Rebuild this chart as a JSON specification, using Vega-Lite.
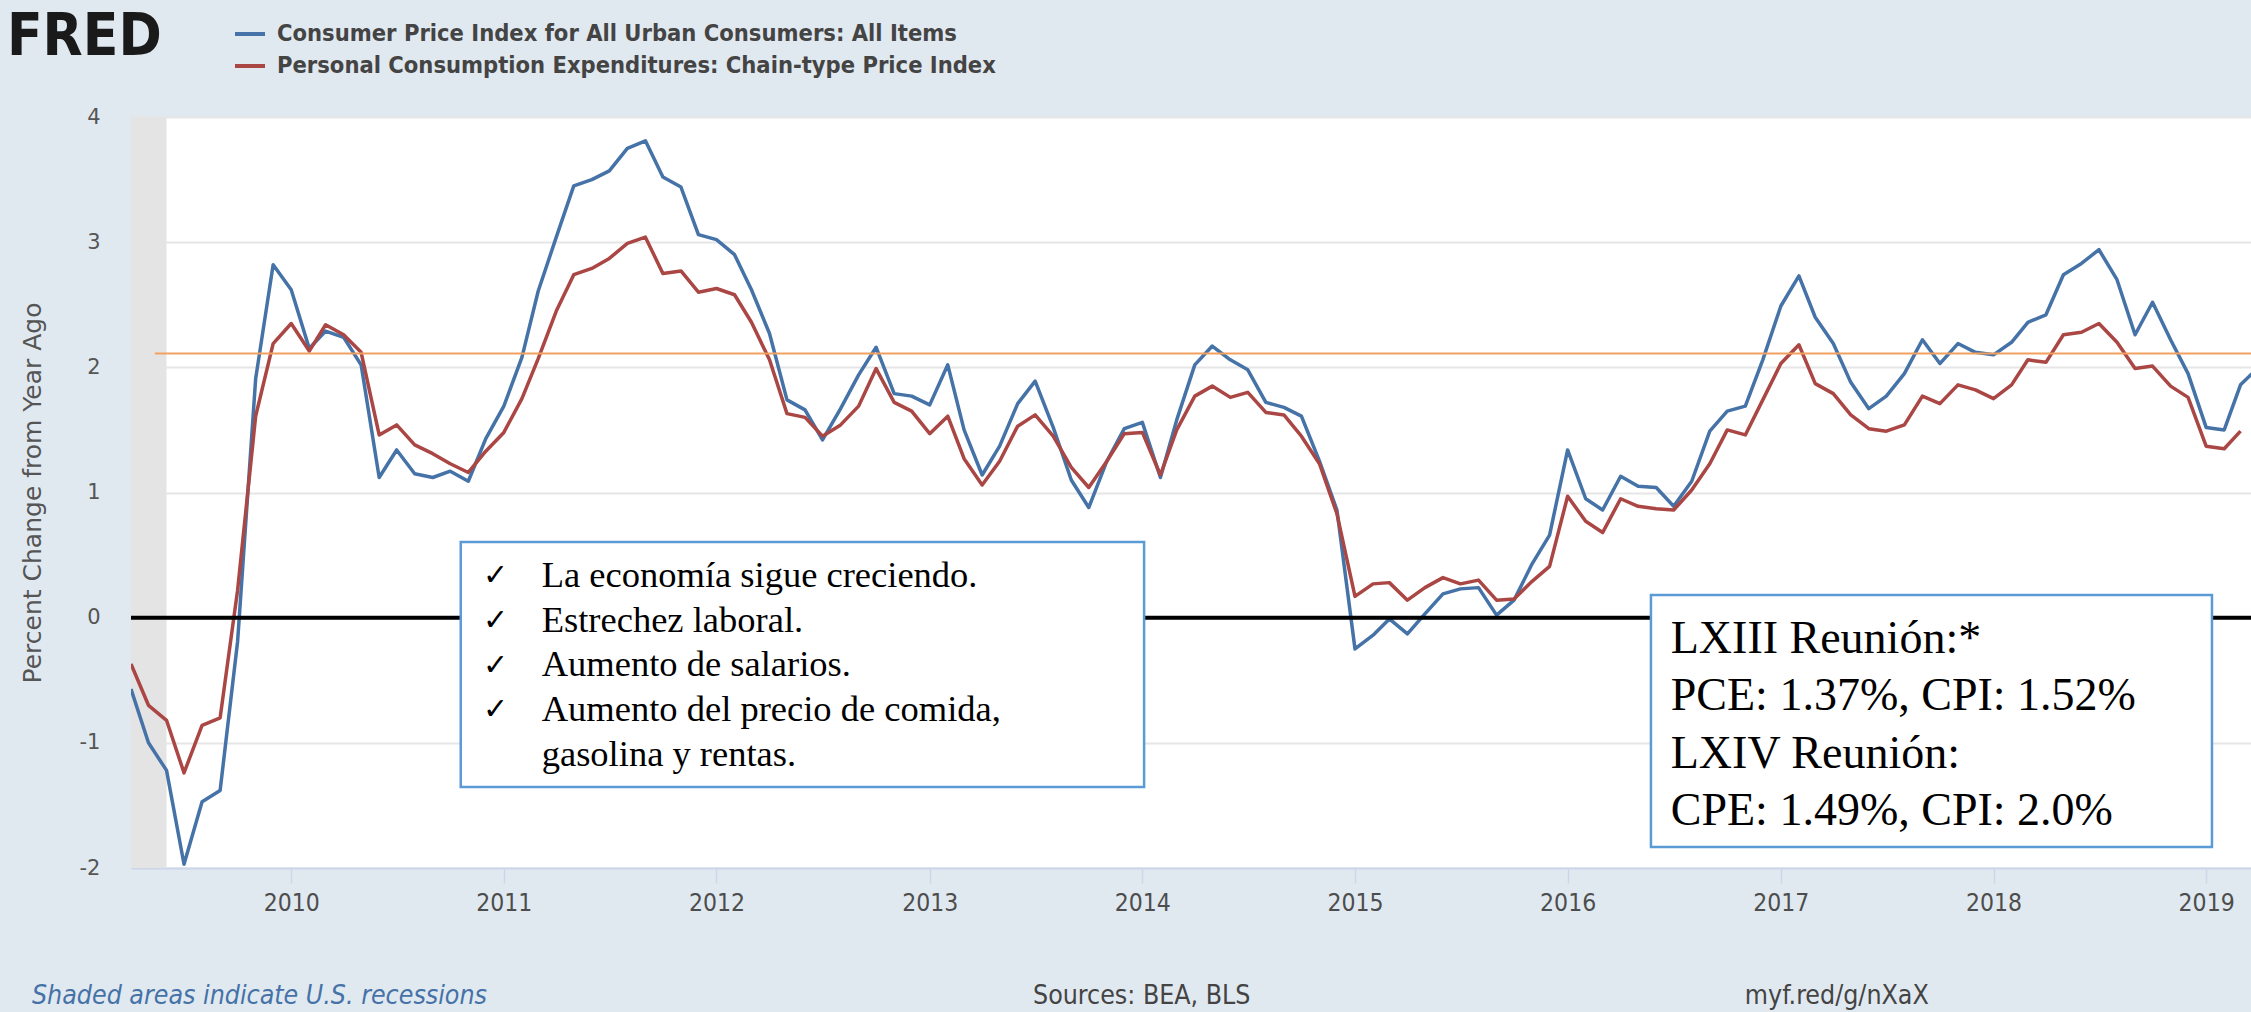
{
  "$schema": "https://vega.github.io/schema/vega-lite/v6.json",
  "width": 2120,
  "height": 751,
  "autosize": {"type": "none"},
  "padding": {"left": 131, "top": 117, "right": 0, "bottom": 144},
  "background": "#e1e9f0",
  "config": {
    "view": {"fill": "white", "stroke": null},
    "font": "DejaVu Sans"
  },
  "datasets": {
    "fred": [
      {"date": "2009-04-01", "CPI": -0.57, "PCE": -0.37},
      {"date": "2009-05-01", "CPI": -1.0, "PCE": -0.7},
      {"date": "2009-06-01", "CPI": -1.22, "PCE": -0.82},
      {"date": "2009-07-01", "CPI": -1.97, "PCE": -1.24},
      {"date": "2009-08-01", "CPI": -1.47, "PCE": -0.86},
      {"date": "2009-09-01", "CPI": -1.38, "PCE": -0.8},
      {"date": "2009-10-01", "CPI": -0.19, "PCE": 0.22},
      {"date": "2009-11-01", "CPI": 1.91, "PCE": 1.61},
      {"date": "2009-12-01", "CPI": 2.82, "PCE": 2.19},
      {"date": "2010-01-01", "CPI": 2.62, "PCE": 2.35},
      {"date": "2010-02-01", "CPI": 2.15, "PCE": 2.13},
      {"date": "2010-03-01", "CPI": 2.29, "PCE": 2.34},
      {"date": "2010-04-01", "CPI": 2.24, "PCE": 2.26},
      {"date": "2010-05-01", "CPI": 2.02, "PCE": 2.12},
      {"date": "2010-06-01", "CPI": 1.12, "PCE": 1.46},
      {"date": "2010-07-01", "CPI": 1.34, "PCE": 1.54},
      {"date": "2010-08-01", "CPI": 1.15, "PCE": 1.38},
      {"date": "2010-09-01", "CPI": 1.12, "PCE": 1.31},
      {"date": "2010-10-01", "CPI": 1.17, "PCE": 1.23},
      {"date": "2010-11-01", "CPI": 1.09, "PCE": 1.16},
      {"date": "2010-12-01", "CPI": 1.43, "PCE": 1.33},
      {"date": "2011-01-01", "CPI": 1.69, "PCE": 1.48},
      {"date": "2011-02-01", "CPI": 2.08, "PCE": 1.75},
      {"date": "2011-03-01", "CPI": 2.61, "PCE": 2.07},
      {"date": "2011-04-01", "CPI": 3.04, "PCE": 2.45},
      {"date": "2011-05-01", "CPI": 3.45, "PCE": 2.74},
      {"date": "2011-06-01", "CPI": 3.5, "PCE": 2.79},
      {"date": "2011-07-01", "CPI": 3.57, "PCE": 2.87},
      {"date": "2011-08-01", "CPI": 3.75, "PCE": 2.99},
      {"date": "2011-09-01", "CPI": 3.81, "PCE": 3.04},
      {"date": "2011-10-01", "CPI": 3.52, "PCE": 2.75},
      {"date": "2011-11-01", "CPI": 3.44, "PCE": 2.77},
      {"date": "2011-12-01", "CPI": 3.06, "PCE": 2.6},
      {"date": "2012-01-01", "CPI": 3.02, "PCE": 2.63},
      {"date": "2012-02-01", "CPI": 2.9, "PCE": 2.58},
      {"date": "2012-03-01", "CPI": 2.62, "PCE": 2.36},
      {"date": "2012-04-01", "CPI": 2.27, "PCE": 2.06},
      {"date": "2012-05-01", "CPI": 1.74, "PCE": 1.63},
      {"date": "2012-06-01", "CPI": 1.66, "PCE": 1.6},
      {"date": "2012-07-01", "CPI": 1.42, "PCE": 1.45},
      {"date": "2012-08-01", "CPI": 1.67, "PCE": 1.54},
      {"date": "2012-09-01", "CPI": 1.94, "PCE": 1.69},
      {"date": "2012-10-01", "CPI": 2.16, "PCE": 1.99},
      {"date": "2012-11-01", "CPI": 1.79, "PCE": 1.72},
      {"date": "2012-12-01", "CPI": 1.77, "PCE": 1.65},
      {"date": "2013-01-01", "CPI": 1.7, "PCE": 1.47},
      {"date": "2013-02-01", "CPI": 2.02, "PCE": 1.61},
      {"date": "2013-03-01", "CPI": 1.5, "PCE": 1.27},
      {"date": "2013-04-01", "CPI": 1.14, "PCE": 1.06},
      {"date": "2013-05-01", "CPI": 1.37, "PCE": 1.25},
      {"date": "2013-06-01", "CPI": 1.71, "PCE": 1.53},
      {"date": "2013-07-01", "CPI": 1.89, "PCE": 1.62},
      {"date": "2013-08-01", "CPI": 1.52, "PCE": 1.45},
      {"date": "2013-09-01", "CPI": 1.1, "PCE": 1.2},
      {"date": "2013-10-01", "CPI": 0.88, "PCE": 1.04},
      {"date": "2013-11-01", "CPI": 1.25, "PCE": 1.25},
      {"date": "2013-12-01", "CPI": 1.51, "PCE": 1.47},
      {"date": "2014-01-01", "CPI": 1.56, "PCE": 1.48},
      {"date": "2014-02-01", "CPI": 1.12, "PCE": 1.14},
      {"date": "2014-03-01", "CPI": 1.58, "PCE": 1.5},
      {"date": "2014-04-01", "CPI": 2.02, "PCE": 1.77},
      {"date": "2014-05-01", "CPI": 2.17, "PCE": 1.85},
      {"date": "2014-06-01", "CPI": 2.06, "PCE": 1.76},
      {"date": "2014-07-01", "CPI": 1.98, "PCE": 1.8},
      {"date": "2014-08-01", "CPI": 1.72, "PCE": 1.64},
      {"date": "2014-09-01", "CPI": 1.68, "PCE": 1.62},
      {"date": "2014-10-01", "CPI": 1.61, "PCE": 1.45},
      {"date": "2014-11-01", "CPI": 1.25, "PCE": 1.23},
      {"date": "2014-12-01", "CPI": 0.86, "PCE": 0.83},
      {"date": "2015-01-01", "CPI": -0.25, "PCE": 0.17},
      {"date": "2015-02-01", "CPI": -0.14, "PCE": 0.27},
      {"date": "2015-03-01", "CPI": -0.01, "PCE": 0.28},
      {"date": "2015-04-01", "CPI": -0.13, "PCE": 0.14},
      {"date": "2015-05-01", "CPI": 0.03, "PCE": 0.24},
      {"date": "2015-06-01", "CPI": 0.19, "PCE": 0.32},
      {"date": "2015-07-01", "CPI": 0.23, "PCE": 0.27},
      {"date": "2015-08-01", "CPI": 0.24, "PCE": 0.3},
      {"date": "2015-09-01", "CPI": 0.02, "PCE": 0.14},
      {"date": "2015-10-01", "CPI": 0.14, "PCE": 0.15},
      {"date": "2015-11-01", "CPI": 0.43, "PCE": 0.29},
      {"date": "2015-12-01", "CPI": 0.66, "PCE": 0.41},
      {"date": "2016-01-01", "CPI": 1.34, "PCE": 0.97},
      {"date": "2016-02-01", "CPI": 0.95, "PCE": 0.77},
      {"date": "2016-03-01", "CPI": 0.86, "PCE": 0.68},
      {"date": "2016-04-01", "CPI": 1.13, "PCE": 0.95},
      {"date": "2016-05-01", "CPI": 1.05, "PCE": 0.89},
      {"date": "2016-06-01", "CPI": 1.04, "PCE": 0.87},
      {"date": "2016-07-01", "CPI": 0.89, "PCE": 0.86},
      {"date": "2016-08-01", "CPI": 1.09, "PCE": 1.02},
      {"date": "2016-09-01", "CPI": 1.49, "PCE": 1.23},
      {"date": "2016-10-01", "CPI": 1.65, "PCE": 1.5},
      {"date": "2016-11-01", "CPI": 1.69, "PCE": 1.46},
      {"date": "2016-12-01", "CPI": 2.06, "PCE": 1.74},
      {"date": "2017-01-01", "CPI": 2.49, "PCE": 2.03},
      {"date": "2017-02-01", "CPI": 2.73, "PCE": 2.18},
      {"date": "2017-03-01", "CPI": 2.4, "PCE": 1.87},
      {"date": "2017-04-01", "CPI": 2.19, "PCE": 1.79},
      {"date": "2017-05-01", "CPI": 1.88, "PCE": 1.62},
      {"date": "2017-06-01", "CPI": 1.67, "PCE": 1.51},
      {"date": "2017-07-01", "CPI": 1.77, "PCE": 1.49},
      {"date": "2017-08-01", "CPI": 1.95, "PCE": 1.54},
      {"date": "2017-09-01", "CPI": 2.22, "PCE": 1.77},
      {"date": "2017-10-01", "CPI": 2.03, "PCE": 1.71},
      {"date": "2017-11-01", "CPI": 2.19, "PCE": 1.86},
      {"date": "2017-12-01", "CPI": 2.12, "PCE": 1.82},
      {"date": "2018-01-01", "CPI": 2.1, "PCE": 1.75},
      {"date": "2018-02-01", "CPI": 2.2, "PCE": 1.86},
      {"date": "2018-03-01", "CPI": 2.36, "PCE": 2.06},
      {"date": "2018-04-01", "CPI": 2.42, "PCE": 2.04},
      {"date": "2018-05-01", "CPI": 2.74, "PCE": 2.26},
      {"date": "2018-06-01", "CPI": 2.83, "PCE": 2.28},
      {"date": "2018-07-01", "CPI": 2.94, "PCE": 2.35},
      {"date": "2018-08-01", "CPI": 2.7, "PCE": 2.2},
      {"date": "2018-09-01", "CPI": 2.26, "PCE": 1.99},
      {"date": "2018-10-01", "CPI": 2.52, "PCE": 2.01},
      {"date": "2018-11-01", "CPI": 2.22, "PCE": 1.85},
      {"date": "2018-12-01", "CPI": 1.95, "PCE": 1.76},
      {"date": "2019-01-01", "CPI": 1.52, "PCE": 1.37},
      {"date": "2019-02-01", "CPI": 1.5, "PCE": 1.35},
      {"date": "2019-03-01", "CPI": 1.86, "PCE": 1.49},
      {"date": "2019-04-01", "CPI": 2.0}
    ]
  },
  "layer": [
    {
      "data": {"values": [{}]},
      "mark": {"type": "rect", "color": "#e4e4e4", "clip": true},
      "encoding": {
        "x": {"datum": {"year": 2009, "month": 1, "date": 1, "utc": true}, "type": "temporal",
              "scale": {"type": "utc", "domain": [{"year": 2009, "month": 4, "date": 1, "utc": true}, {"year": 2019, "month": 3, "date": 19, "utc": true}]},
              "axis": {
                "values": [
                  {"year": 2010, "month": 1, "date": 1, "utc": true},
                  {"year": 2011, "month": 1, "date": 1, "utc": true},
                  {"year": 2012, "month": 1, "date": 1, "utc": true},
                  {"year": 2013, "month": 1, "date": 1, "utc": true},
                  {"year": 2014, "month": 1, "date": 1, "utc": true},
                  {"year": 2015, "month": 1, "date": 1, "utc": true},
                  {"year": 2016, "month": 1, "date": 1, "utc": true},
                  {"year": 2017, "month": 1, "date": 1, "utc": true},
                  {"year": 2018, "month": 1, "date": 1, "utc": true},
                  {"year": 2019, "month": 1, "date": 1, "utc": true}
                ],
                "format": "%Y", "title": null, "grid": false,
                "domainColor": "#ccd6eb", "domainWidth": 2,
                "tickColor": "#ccd6eb", "tickWidth": 1.5, "tickSize": 15,
                "labelFont": "DejaVu Sans Condensed, DejaVu Sans", "labelFontSize": 24.5, "labelColor": "#4d4d4d",
                "labelPadding": 8, "labelFlush": false
              }},
        "x2": {"datum": {"year": 2009, "month": 6, "date": 1, "utc": true}}
      }
    },
    {
      "data": {"name": "fred"},
      "transform": [{"fold": ["CPI", "PCE"], "as": ["series", "value"]}],
      "mark": {"type": "line", "strokeWidth": 3.5, "clip": true, "strokeJoin": "round"},
      "encoding": {
        "x": {"field": "date", "type": "temporal"},
        "y": {"field": "value", "type": "quantitative",
              "scale": {"domain": [-2, 4], "nice": false, "zero": false},
              "axis": {
                "values": [-2, -1, 0, 1, 2, 3, 4],
                "labelExpr": "'' + datum.value",
                "title": "Percent Change from Year Ago",
                "titleFont": "DejaVu Sans", "titleFontSize": 25, "titleFontWeight": "normal", "titleColor": "#555555",
                "titlePadding": 34,
                "grid": true, "gridColor": "#e6e6e6", "gridWidth": 2,
                "domain": false, "ticks": false,
                "labelFont": "DejaVu Sans", "labelFontSize": 21, "labelColor": "#555555", "labelPadding": 31
              }},
        "color": {"field": "series", "type": "nominal",
                  "scale": {"domain": ["CPI", "PCE"], "range": ["#4572a7", "#aa4643"]},
                  "legend": {
                    "orient": "none", "legendX": 102, "legendY": -100, "title": null,
                    "symbolType": "stroke", "symbolSize": 900, "symbolStrokeWidth": 4,
                    "labelFont": "DejaVu Sans Condensed, DejaVu Sans", "labelFontSize": 23.5, "labelFontWeight": "bold",
                    "labelColor": "#444444", "labelLimit": 1200, "labelOffset": 10, "rowPadding": 3, "padding": 0,
                    "labelExpr": "datum.label == 'CPI' ? 'Consumer Price Index for All Urban Consumers: All Items' : 'Personal Consumption Expenditures: Chain-type Price Index'"
                  }}
      }
    },
    {
      "data": {"values": [{}]},
      "mark": {"type": "rule", "color": "#000000", "strokeWidth": 4},
      "encoding": {"y": {"datum": 0}}
    },
    {
      "data": {"values": [{}]},
      "mark": {"type": "rule", "color": "#f2a060", "strokeWidth": 2, "clip": true},
      "encoding": {
        "x": {"datum": {"year": 2009, "month": 5, "date": 12, "utc": true}},
        "x2": {"datum": {"year": 2019, "month": 12, "date": 31, "utc": true}},
        "y": {"datum": 2.11}
      }
    },
    {
      "data": {"values": [{}]},
      "mark": {"type": "rect", "fill": "#ffffff", "stroke": "#5b9bd5", "strokeWidth": 2.5},
      "encoding": {
        "x": {"datum": {"year": 2010, "month": 10, "date": 19, "utc": true}},
        "x2": {"datum": {"year": 2014, "month": 1, "date": 4, "utc": true}},
        "y": {"datum": 0.605},
        "y2": {"datum": -1.353}
      }
    },
    {
      "data": {"values": [{}]},
      "mark": {"type": "text", "text": ["✓", "✓", "✓", "✓"], "font": "DejaVu Sans", "fontSize": 30, "fontWeight": "bold",
               "lineHeight": 44.7, "align": "left", "baseline": "alphabetic", "color": "#000000"},
      "encoding": {
        "x": {"datum": {"year": 2010, "month": 11, "date": 26, "utc": true}},
        "y": {"datum": 0.26}
      }
    },
    {
      "data": {"values": [{}]},
      "mark": {"type": "text",
               "text": ["La economía sigue creciendo.", "Estrechez laboral.", "Aumento de salarios.", "Aumento del precio de comida,", "gasolina y rentas."],
               "font": "Liberation Serif", "fontSize": 36.5, "lineHeight": 44.7, "align": "left", "baseline": "alphabetic", "color": "#000000"},
      "encoding": {
        "x": {"datum": {"year": 2011, "month": 3, "date": 7, "utc": true}},
        "y": {"datum": 0.245}
      }
    },
    {
      "data": {"values": [{}]},
      "mark": {"type": "rect", "fill": "#ffffff", "stroke": "#5b9bd5", "strokeWidth": 2.5},
      "encoding": {
        "x": {"datum": {"year": 2016, "month": 5, "date": 23, "utc": true}},
        "x2": {"datum": {"year": 2019, "month": 1, "date": 11, "utc": true}},
        "y": {"datum": 0.181},
        "y2": {"datum": -1.832}
      }
    },
    {
      "data": {"values": [{}]},
      "mark": {"type": "text",
               "text": ["LXIII Reunión:*", "PCE: 1.37%, CPI: 1.52%", "LXIV Reunión:", "CPE: 1.49%, CPI: 2.0%"],
               "font": "Liberation Serif", "fontSize": 46, "lineHeight": 57.3, "align": "left", "baseline": "alphabetic", "color": "#000000"},
      "encoding": {
        "x": {"datum": {"year": 2016, "month": 6, "date": 26, "utc": true}},
        "y": {"datum": -0.282}
      }
    },
    {
      "data": {"values": [{}]},
      "mark": {"type": "text", "text": "FRED", "font": "DejaVu Sans Condensed, DejaVu Sans", "fontSize": 58, "fontWeight": "bold",
               "align": "left", "baseline": "alphabetic", "color": "#1a1a1a"},
      "encoding": {
        "x": {"datum": {"year": 2008, "month": 8, "date": 31, "utc": true}},
        "y": {"datum": 4.495}
      }
    },
    {
      "data": {"values": [{}]},
      "mark": {"type": "text", "text": "Shaded areas indicate U.S. recessions", "font": "DejaVu Sans Condensed, DejaVu Sans", "fontSize": 26.5,
               "fontStyle": "italic", "align": "left", "baseline": "middle", "color": "#4572a7"},
      "encoding": {
        "x": {"datum": {"year": 2008, "month": 10, "date": 13, "utc": true}},
        "y": {"datum": -3.022}
      }
    },
    {
      "data": {"values": [{}]},
      "mark": {"type": "text", "text": "Sources: BEA, BLS", "font": "DejaVu Sans Condensed, DejaVu Sans", "fontSize": 26.5,
               "align": "center", "baseline": "middle", "color": "#444444"},
      "encoding": {
        "x": {"datum": {"year": 2013, "month": 12, "date": 31, "utc": true}},
        "y": {"datum": -3.022}
      }
    },
    {
      "data": {"values": [{}]},
      "mark": {"type": "text", "text": "myf.red/g/nXaX", "font": "DejaVu Sans Condensed, DejaVu Sans", "fontSize": 26.5,
               "align": "center", "baseline": "middle", "color": "#444444"},
      "encoding": {
        "x": {"datum": {"year": 2017, "month": 4, "date": 7, "utc": true}},
        "y": {"datum": -3.022}
      }
    }
  ]
}
